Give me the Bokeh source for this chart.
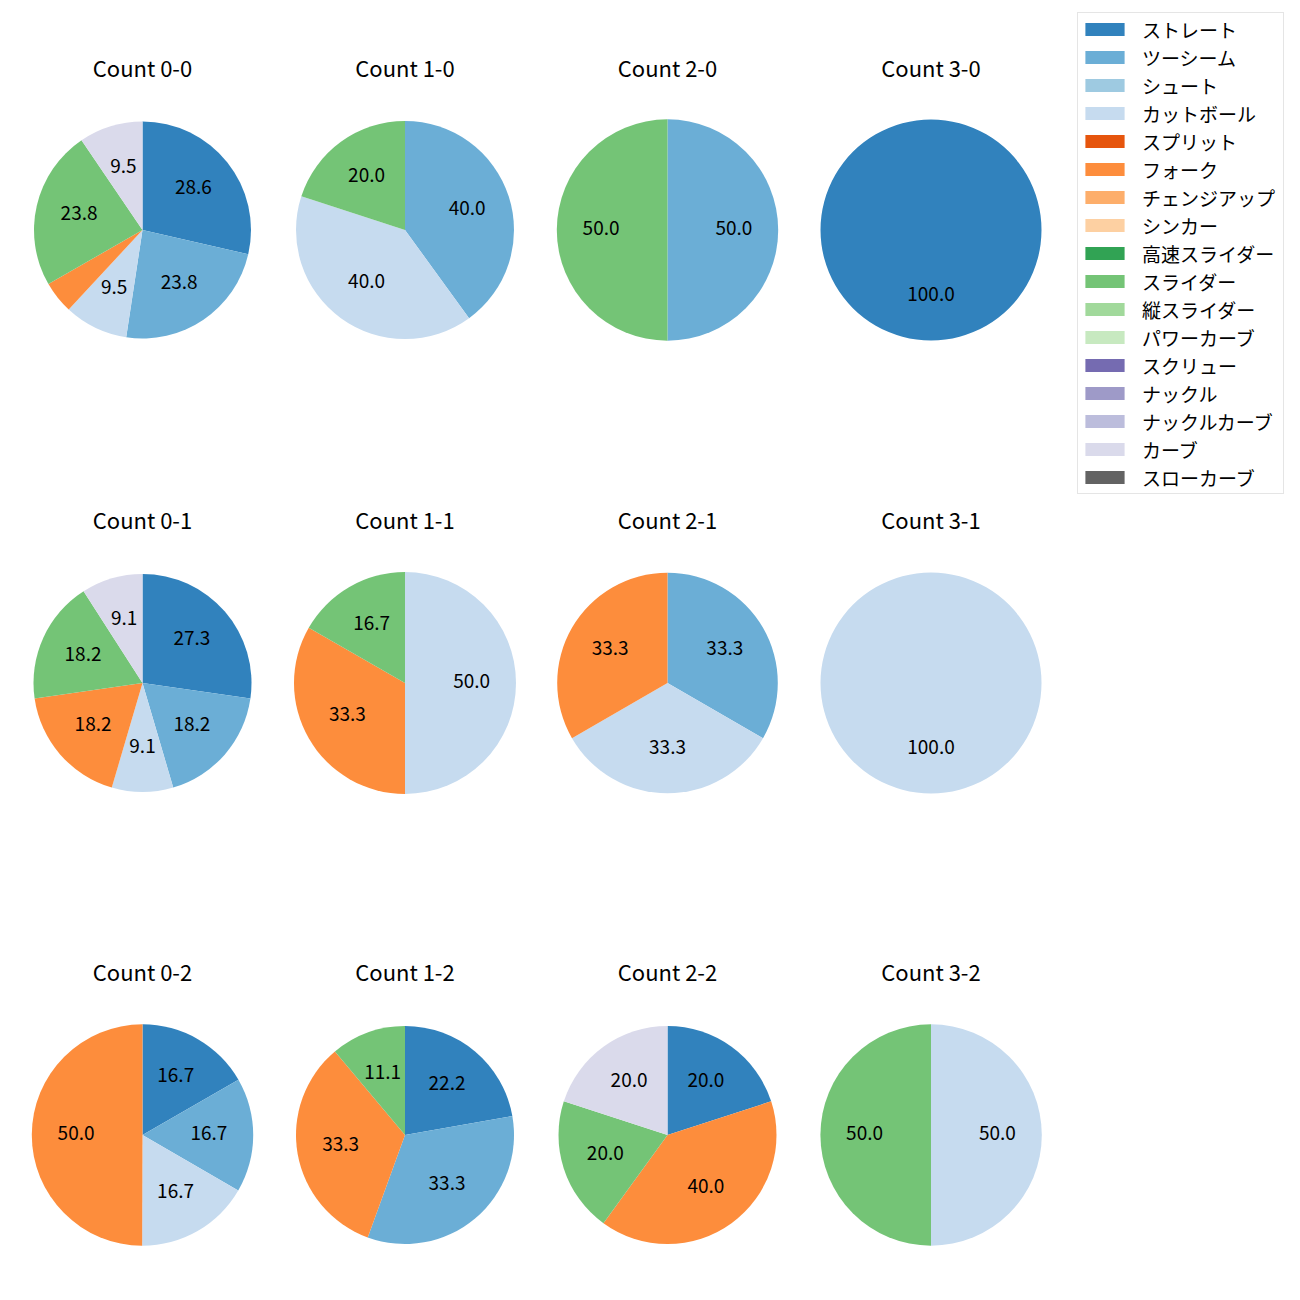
import math
from bokeh.plotting import figure
from bokeh.models import Range1d, ColumnDataSource, Legend, LegendItem
from bokeh.embed import file_html
from bokeh.resources import INLINE
from bokeh.core.properties import value

# ---------------- data ----------------
pitch_types = ["ストレート", "ツーシーム", "シュート", "カットボール", "スプリット", "フォーク",
               "チェンジアップ", "シンカー", "高速スライダー", "スライダー", "縦スライダー",
               "パワーカーブ", "スクリュー", "ナックル", "ナックルカーブ", "カーブ", "スローカーブ"]
colors = ["#3182bd", "#6baed6", "#9ecae1", "#c6dbef", "#e6550d", "#fd8d3c", "#fdae6b", "#fdd0a2",
          "#31a354", "#74c476", "#a1d99b", "#c7e9c0", "#756bb1", "#9e9ac8", "#bcbddc", "#dadaeb",
          "#636363"]
count_labels = ["0-0", "1-0", "2-0", "3-0",
                "0-1", "1-1", "2-1", "3-1",
                "0-2", "1-2", "2-2", "3-2"]

# percentage share of each pitch type per count (order follows count_labels)
straight   = [28.6, 0, 0, 100, 27.3, 0, 0, 0, 16.7, 22.2, 20.0, 0]
two_seam   = [23.8, 40.0, 50.0, 0, 18.2, 0, 33.3, 0, 16.7, 33.3, 0, 0]
shoot      = [0] * 12
cutter     = [9.5, 40.0, 0, 0, 9.1, 50.0, 33.3, 100, 16.7, 0, 0, 50.0]
split      = [0] * 12
fork       = [4.8, 0, 0, 0, 18.2, 33.3, 33.3, 0, 50.0, 33.3, 40.0, 0]
changeup   = [0] * 12
sinker     = [0] * 12
fast_sl    = [0] * 12
slider     = [23.8, 20.0, 50.0, 0, 18.2, 16.7, 0, 0, 0, 11.1, 20.0, 50.0]
vert_sl    = [0] * 12
power_cv   = [0] * 12
screw      = [0] * 12
knuckle    = [0] * 12
knuckle_cv = [0] * 12
curve      = [9.5, 0, 0, 0, 9.1, 0, 0, 0, 0, 0, 20.0, 0]
slow_cv    = [0] * 12

series = [straight, two_seam, shoot, cutter, split, fork, changeup, sinker, fast_sl,
          slider, vert_sl, power_cv, screw, knuckle, knuckle_cv, curve, slow_cv]

# ---------------- layout (screen pixel coordinates) ----------------
col_x = [142.0, 404.5, 667.0, 930.5]
row_y = [229.5, 682.5, 1134.5]
title_y = [66.0, 518.0, 970.0]
pie_r = [108.5, 109.0, 110.7, 110.5,
         109.0, 111.0, 110.3, 110.5,
         110.7, 109.0, 109.0, 110.7]

FONT = "Noto Sans CJK JP"
W = H = 1284
p = figure(width=W, height=H, output_backend="svg", toolbar_location=None,
           x_range=Range1d(0, W), y_range=Range1d(-H, 0),
           min_border=0)
p.axis.visible = False
p.grid.visible = False
p.outline_line_color = None

wedge_data = [dict(x=[], y=[], r=[], start=[], end=[]) for _ in pitch_types]
lab_x, lab_y, lab_t = [], [], []
ttl_x, ttl_y, ttl_t = [], [], []

for k, cname in enumerate(count_labels):
    row, col = divmod(k, 4)
    cx, cy = col_x[col], -row_y[row]
    r = pie_r[k]
    vals = [s[k] for s in series]
    tot = sum(vals)
    cum = 0.0
    for j, v in enumerate(vals):
        if v <= 0:
            continue
        f0 = cum / tot
        f1 = (cum + v) / tot
        cum += v
        a_start = math.pi / 2 - f1 * 2 * math.pi
        a_end = math.pi / 2 - f0 * 2 * math.pi
        if a_end - a_start > 2 * math.pi - 1e-6:
            a_end = a_start + 2 * math.pi - 1e-4
        d = wedge_data[j]
        d["x"].append(cx); d["y"].append(cy); d["r"].append(r)
        d["start"].append(a_start); d["end"].append(a_end)
        if v >= 5:
            am = math.pi / 2 - (f0 + f1) * math.pi
            lab_x.append(cx + 0.6 * r * math.cos(am))
            lab_y.append(cy + 0.6 * r * math.sin(am))
            lab_t.append(f"{v:.1f}")
    ttl_x.append(cx)
    ttl_y.append(-title_y[row])
    ttl_t.append(f"Count {cname}")

items = []
for j, name in enumerate(pitch_types):
    src = ColumnDataSource(wedge_data[j])
    p.wedge(x="x", y="y", radius="r", start_angle="start", end_angle="end",
            fill_color=colors[j], line_color=None, source=src)
    # legend proxy (not drawn inside the plot: NaN position)
    proxy = p.rect(x=[float("nan")], y=[float("nan")], width=1, height=1,
                   fill_color=colors[j], line_color=None)
    items.append(LegendItem(label=name, renderers=[proxy]))

p.text(x=lab_x, y=lab_y, text=lab_t, text_align="center", text_baseline="middle",
       y_offset=-2,
       text_font=value(FONT), text_font_size="19px", text_color="#000000")
p.text(x=ttl_x, y=ttl_y, text=ttl_t, text_align="center", text_baseline="middle",
       text_font=value(FONT), text_font_size="22px", text_color="#000000")

legend = Legend(items=items, location=(1077, 790),
                glyph_width=49, glyph_height=16, label_standoff=13,
                label_width=139, label_height=28,
                padding=2, spacing=0, margin=0,
                label_text_font=FONT, label_text_font_size="19px",
                label_text_color="#000000",
                border_line_color="#cccccc", border_line_width=1,
                background_fill_color="#ffffff", background_fill_alpha=1.0)
p.add_layout(legend)

open("out.html", "w").write(file_html(p, INLINE))
